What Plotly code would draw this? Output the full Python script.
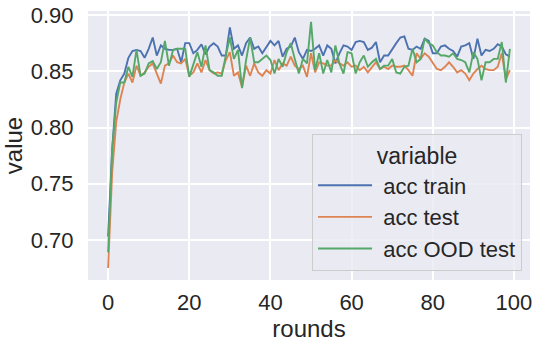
import plotly.graph_objects as go

# ── Datos ─────────────────────────────────────────────────────────────

rounds = list(range(100))

acc_train = [
    0.703, 0.780, 0.830, 0.842, 0.848, 0.862, 0.868, 0.869, 0.868, 0.862,
    0.870, 0.880, 0.864, 0.873, 0.870, 0.869, 0.869, 0.870, 0.858, 0.875,
    0.875, 0.866, 0.869, 0.874, 0.865, 0.872, 0.875, 0.872, 0.864, 0.864,
    0.889, 0.870, 0.873, 0.864, 0.875, 0.880, 0.870, 0.872, 0.866, 0.872,
    0.877, 0.873, 0.877, 0.863, 0.870, 0.872, 0.880, 0.867, 0.861, 0.869,
    0.868, 0.870, 0.873, 0.864, 0.873, 0.870, 0.857, 0.866, 0.873, 0.872,
    0.869, 0.876, 0.877, 0.876, 0.869, 0.871, 0.876, 0.858, 0.864, 0.864,
    0.870, 0.875, 0.880, 0.881, 0.870, 0.869, 0.872, 0.870, 0.879, 0.877,
    0.866, 0.866, 0.872, 0.873, 0.870, 0.868, 0.863, 0.872, 0.873, 0.875,
    0.861, 0.879, 0.864, 0.869, 0.868, 0.870, 0.874, 0.872, 0.865, 0.863,
]

acc_test = [
    0.675, 0.760, 0.805, 0.825, 0.840, 0.848, 0.840, 0.855, 0.846, 0.849,
    0.854, 0.857, 0.848, 0.839, 0.855, 0.857, 0.864, 0.858, 0.857, 0.861,
    0.846, 0.849, 0.857, 0.849, 0.860, 0.851, 0.848, 0.849, 0.848, 0.860,
    0.867, 0.846, 0.849, 0.836, 0.855, 0.846, 0.857, 0.849, 0.846, 0.851,
    0.848, 0.860, 0.851, 0.857, 0.855, 0.863, 0.855, 0.852, 0.855, 0.845,
    0.866, 0.849, 0.858, 0.857, 0.855, 0.855, 0.860, 0.857, 0.855, 0.858,
    0.854, 0.855, 0.851, 0.854, 0.849, 0.854, 0.858, 0.852, 0.854, 0.852,
    0.855, 0.854, 0.854, 0.855, 0.851, 0.846, 0.866, 0.861, 0.866, 0.863,
    0.858, 0.852, 0.851, 0.854, 0.858, 0.854, 0.849, 0.851, 0.848, 0.842,
    0.848, 0.852, 0.855, 0.852, 0.851, 0.851, 0.854, 0.866, 0.843, 0.851,
]

acc_ood_test = [
    0.689, 0.780, 0.822, 0.840, 0.840, 0.854, 0.845, 0.869, 0.846, 0.848,
    0.857, 0.859, 0.852, 0.858, 0.877, 0.855, 0.869, 0.870, 0.870, 0.870,
    0.845, 0.857, 0.867, 0.854, 0.873, 0.851, 0.849, 0.846, 0.846, 0.864,
    0.880, 0.861, 0.869, 0.835, 0.860, 0.880, 0.858, 0.858, 0.861, 0.864,
    0.860, 0.848, 0.861, 0.854, 0.867, 0.875, 0.861, 0.848, 0.861, 0.857,
    0.894, 0.851, 0.866, 0.848, 0.860, 0.849, 0.873, 0.857, 0.848, 0.867,
    0.866, 0.848, 0.858, 0.864, 0.854, 0.858, 0.861, 0.852, 0.855, 0.855,
    0.861, 0.849, 0.848, 0.854, 0.855, 0.870, 0.858, 0.861, 0.879, 0.875,
    0.873, 0.867, 0.864, 0.864, 0.863, 0.866, 0.861, 0.860, 0.858, 0.849,
    0.867, 0.861, 0.842, 0.858, 0.858, 0.861, 0.861, 0.876, 0.840, 0.870,
]

series_names = [" acc train", " acc test", " acc OOD test"]
series_colors = ["#4C72B0", "#DD8452", "#55A868"]

x_ticks = [0, 20, 40, 60, 80, 100]
y_ticks = [0.70, 0.75, 0.80, 0.85, 0.90]

# ── Gráfico ───────────────────────────────────────────────────────────

FONT = "Liberation Sans, Arial, sans-serif"
TEXT = "#262626"

fig = go.Figure()
for name, vals, col in zip(series_names, [acc_train, acc_test, acc_ood_test], series_colors):
    fig.add_trace(go.Scatter(
        x=rounds, y=vals, mode="lines", name=name,
        line=dict(color=col, width=1.9),
    ))

fig.update_layout(
    width=542, height=345,
    margin=dict(l=88, r=12, t=11, b=65),
    paper_bgcolor="white",
    plot_bgcolor="#EAEAF2",
    font=dict(family=FONT, color=TEXT, size=22),
    legend=dict(
        x=0.982, y=0.035, xanchor="right", yanchor="bottom",
        bgcolor="rgba(234,234,242,0.8)",
        bordercolor="#CCCCCC", borderwidth=1,
        font=dict(size=22, color=TEXT),
        title=dict(text="variable", side="top center", font=dict(size=23, color=TEXT)),
        itemwidth=54,
        tracegroupgap=0,
    ),
    xaxis=dict(
        range=[-4.95, 103.95],
        tickvals=x_ticks,
        showgrid=True, gridcolor="white", gridwidth=1.5,
        zeroline=False, showline=False,
        ticks="outside", ticklen=3, tickcolor="rgba(0,0,0,0)",
        tickfont=dict(size=22, color=TEXT),
        automargin=False,
        title=dict(text="rounds", font=dict(size=24, color=TEXT), standoff=0),
    ),
    yaxis=dict(
        range=[0.6644, 0.9036],
        tickvals=y_ticks,
        tickformat=".2f",
        showgrid=True, gridcolor="white", gridwidth=1.5,
        zeroline=False, showline=False,
        ticks="outside", ticklen=9, tickcolor="rgba(0,0,0,0)",
        tickfont=dict(size=22, color=TEXT),
        automargin=False,
        title=dict(text="value", font=dict(size=24, color=TEXT), standoff=10),
    ),
)

# sin el margen por defecto del body, la figura queda en (0, 0)
fig.write_html(
    "out.html",
    config={"displayModeBar": False},
    post_script="document.body.style.margin = '0';",
)
